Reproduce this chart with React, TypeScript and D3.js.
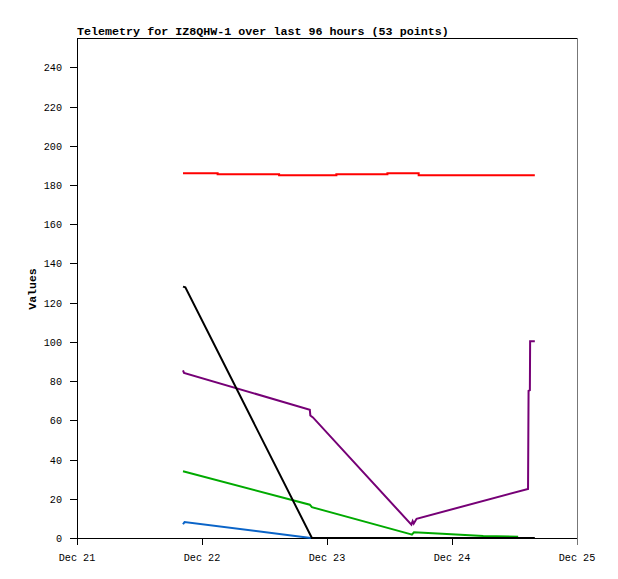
import React from "react";
import * as d3 from "d3";

const TITLE = "Telemetry for IZ8QHW-1 over last 96 hours (53 points)";
const Y_LABEL = "Values";
const X_TICKS = [0, 24, 48, 72, 96]; // hours since Dec 21 00:00
const X_TICK_LABELS = ["Dec 21", "Dec 22", "Dec 23", "Dec 24", "Dec 25"];
const Y_TICKS = [0, 20, 40, 60, 80, 100, 120, 140, 160, 180, 200, 220, 240];

// [hour since Dec 21 00:00, value]
const redSeries: [number, number][] = [
  [20.35, 186.0], [27.0, 185.5], [38.8, 185.0], [49.8, 185.5], [59.6, 186.0], [65.6, 185.0], [87.9, 185.0],
];
const blackSeries: [number, number][] = [
  [20.35, 128.2], [20.8, 127.8], [45.1, 0], [87.9, 0],
];
const purpleSeries: [number, number][] = [
  [20.35, 85.5], [20.55, 84.2], [44.7, 65.4], [44.8, 62.5], [45.3, 61.5],
  [64.2, 6.8], [64.45, 8.6], [64.65, 7.4], [65.2, 9.8], [86.6, 25.0],
  [86.7, 75.0], [86.95, 75.4], [87.0, 100.3], [87.9, 100.3],
];
const greenSeries: [number, number][] = [
  [20.35, 34.0], [44.7, 17.0], [45.1, 15.7], [64.0, 2.0], [64.3, 1.7],
  [64.7, 2.9], [66.5, 2.7], [71.0, 2.0], [78.0, 1.0], [84.7, 0.7],
];
const blueSeries: [number, number][] = [
  [20.35, 7.0], [20.65, 8.1], [44.9, 0],
];

const W = 618, H = 579;
const L = 77, R = 577, T = 38, B = 538;
const MONO = "'Liberation Mono', 'DejaVu Sans Mono', monospace";

export default function App() {
  const x = d3.scaleLinear().domain([0, 96]).range([L, R]);
  const y = d3.scaleLinear().domain([0, 255]).range([B, T]);
  const line = d3.line<[number, number]>().x(d => x(d[0])).y(d => y(d[1]));
  const stepLine = d3.line<[number, number]>().x(d => x(d[0])).y(d => y(d[1])).curve(d3.curveStepAfter);

  const series: { data: [number, number][]; color: string; step?: boolean }[] = [
    { data: redSeries, color: "#ff0000", step: true },
    { data: purpleSeries, color: "#760076" },
    { data: greenSeries, color: "#00aa00" },
    { data: blueSeries, color: "#0a64c8" },
    { data: blackSeries, color: "#000000" },
  ];

  return (
    <svg width={W} height={H} style={{ position: "absolute", left: 0, top: 0, background: "#fff" }}>
      <rect x={0} y={0} width={W} height={H} fill="#fff" />
      <text x={L} y={35} fontFamily={MONO} fontWeight="bold" fontSize={11.7} fill="#000">{TITLE}</text>
      <text transform={`translate(36,${289}) rotate(-90)`} textAnchor="middle" fontFamily={MONO} fontWeight="bold" fontSize={11.5} fill="#000">{Y_LABEL}</text>
      {/* frame */}
      <line x1={L} y1={T + 0.5} x2={R} y2={T + 0.5} stroke="#000" />
      <line x1={R + 0.5} y1={T} x2={R + 0.5} y2={B + 7} stroke="#777" />
      <line x1={L + 0.5} y1={T} x2={L + 0.5} y2={B + 7} stroke="#000" />
      <line x1={L - 7} y1={B + 0.5} x2={R} y2={B + 0.5} stroke="#000" />
      {Y_TICKS.map(v => (
        <g key={v}>
          <line x1={L - 7} x2={L} y1={Math.round(y(v)) + 0.5} y2={Math.round(y(v)) + 0.5} stroke="#000" />
          <text x={62} y={Math.round(y(v)) + 3.5} textAnchor="end" fontFamily={MONO} fontSize={10.2} fill="#000">{v}</text>
        </g>
      ))}
      {X_TICKS.map((h, i) => (
        <g key={h}>
          <line x1={Math.round(x(h)) + 0.5} x2={Math.round(x(h)) + 0.5} y1={B} y2={B + 7} stroke={i === X_TICKS.length - 1 ? "#777" : "#000"} />
          <text x={x(h)} y={561} textAnchor="middle" fontFamily={MONO} fontSize={10.2} fill="#000">{X_TICK_LABELS[i]}</text>
        </g>
      ))}
      {series.map((s, i) => (
        <path key={i} d={(s.step ? stepLine : line)(s.data) || ""} fill="none" stroke={s.color} strokeWidth={2} />
      ))}
    </svg>
  );
}
